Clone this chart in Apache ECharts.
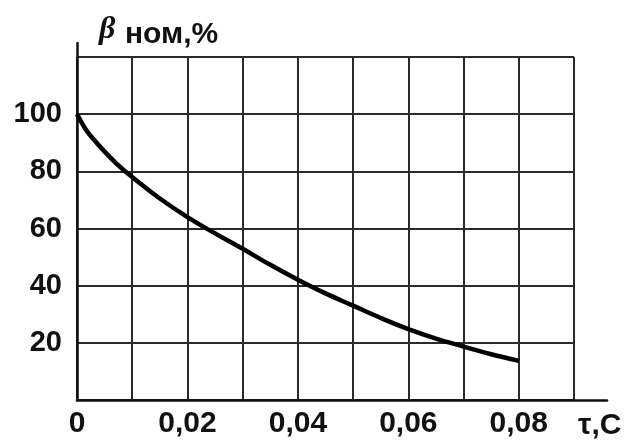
<!DOCTYPE html>
<html>
<head>
<meta charset="utf-8">
<script src="https://cdn.jsdelivr.net/npm/echarts@6/dist/echarts.min.js"></script>
<style>html,body{margin:0;padding:0;background:#fff}#c{width:633px;height:446px}</style>
</head>
<body>
<div id="c"></div>
<script>
// Data
var tau = [0, 0.001, 0.002, 0.004, 0.007, 0.01, 0.015, 0.02, 0.025, 0.03, 0.035, 0.04, 0.045, 0.05, 0.055, 0.06, 0.065, 0.07, 0.075, 0.08];
var beta = [100, 96.5, 93.5, 89, 83, 78, 70.5, 64, 58.3, 52.9, 47.3, 42.1, 37.3, 33, 28.7, 24.8, 21.5, 18.7, 16, 13.7];
var xTickLabels = ['0', '0,02', '0,04', '0,06', '0,08'];
var yTickLabels = [20, 40, 60, 80, 100];
var titleMain = 'β';
var titleSub = 'ном,%';
var xName = 'τ,С';

var font = '"Liberation Sans", Arial, sans-serif';
var chart = echarts.init(document.getElementById('c'), null, {renderer: 'canvas'});
var pts = tau.map(function (t, i) { return [t, beta[i]]; });

chart.setOption({
  animation: false,
  backgroundColor: '#fff',
  title: [
    {text: titleMain, left: 94, top: 9, textStyle: {fontFamily: 'Liberation Serif, serif', fontSize: 32, fontStyle: 'italic', fontWeight: 'bold', color: '#111'}},
    {text: titleSub, left: 120, top: 15, textStyle: {fontFamily: font, fontSize: 30, fontWeight: 'bold', color: '#111'}}
  ],
  grid: [
    {left: 77, right: 59, top: 57, bottom: 46},
    {left: 77, right: 26, top: 43, bottom: 46}
  ],
  xAxis: [
    {
      type: 'value', gridIndex: 0, min: 0, max: 0.09, interval: 0.01,
      axisLine: {show: false}, axisTick: {show: false},
      splitLine: {show: true, lineStyle: {color: '#2a2a2a', width: 2}},
      axisLabel: {
        margin: 9, fontFamily: font, fontSize: 30, fontWeight: 'bold', color: '#111',
        formatter: function (v) {
          var n = Math.round(v * 100);
          if (n % 2 !== 0) return '';
          return xTickLabels[n / 2] || '';
        }
      },
      name: xName, nameLocation: 'end', nameGap: 4,
      nameTextStyle: {fontFamily: font, fontSize: 30, fontWeight: 'bold', color: '#111', verticalAlign: 'top', padding: [11, 0, 0, 0]}
    },
    {
      type: 'value', gridIndex: 1, min: 0, max: 1,
      axisLine: {show: true, lineStyle: {color: '#111', width: 2.5}},
      axisTick: {show: false}, axisLabel: {show: false}, splitLine: {show: false}
    }
  ],
  yAxis: [
    {
      type: 'value', gridIndex: 0, min: 0, max: 120, interval: 20,
      axisLine: {show: false}, axisTick: {show: false},
      splitLine: {show: true, lineStyle: {color: '#2a2a2a', width: 2}},
      axisLabel: {
        margin: 15, fontFamily: font, fontSize: 29, fontWeight: 'bold', color: '#111',
        formatter: function (v) { return yTickLabels.indexOf(v) >= 0 ? String(v) : ''; }
      }
    },
    {
      type: 'value', gridIndex: 1, min: 0, max: 1,
      axisLine: {show: true, lineStyle: {color: '#111', width: 2.5}},
      axisTick: {show: false}, axisLabel: {show: false}, splitLine: {show: false}
    }
  ],
  series: [{
    type: 'line', xAxisIndex: 0, yAxisIndex: 0,
    data: pts, smooth: 0.4, showSymbol: false,
    lineStyle: {color: '#000', width: 4.5}
  }]
});
</script>
</body>
</html>
